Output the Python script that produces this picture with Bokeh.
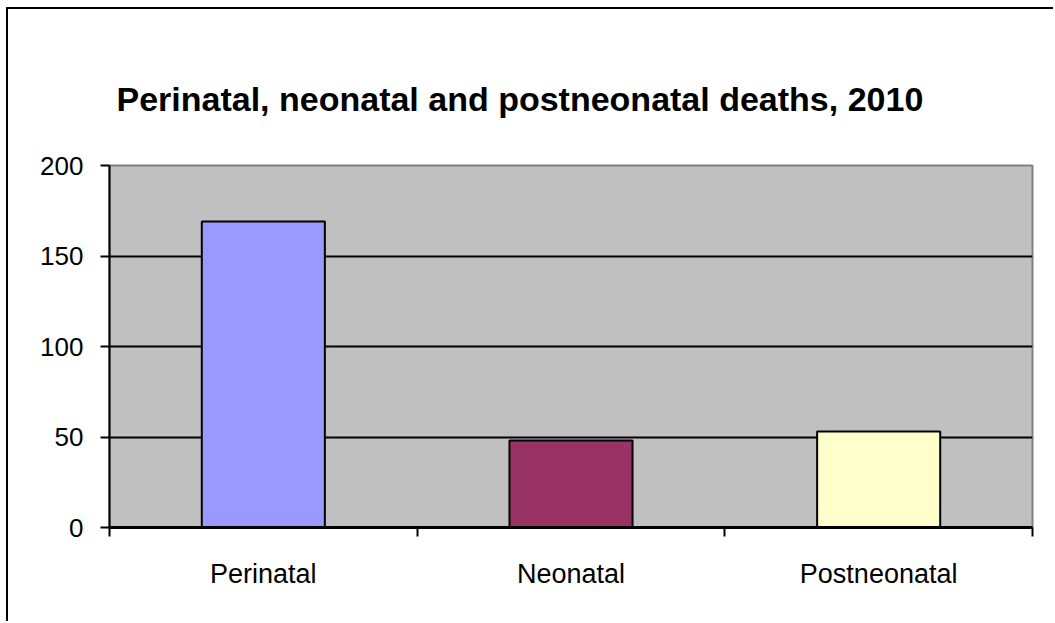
from bokeh.plotting import figure
from bokeh.models import Range1d, FixedTicker, ColumnDataSource
from bokeh.embed import file_html
from bokeh.resources import INLINE

categories = ["Perinatal", "Neonatal", "Postneonatal"]
deaths = [169, 48, 53]
bar_colors = ["#9999FF", "#993366", "#FFFFCC"]
y_ticks = [0, 50, 100, 150, 200]
title_text = "Perinatal, neonatal and postneonatal deaths, 2010"

positions = [i + 0.5 for i in range(len(categories))]
src = ColumnDataSource(dict(x=positions, top=deaths, color=bar_colors, name=categories))

FONT = "Liberation Sans"

p = figure(width=1047, height=614, output_backend="svg", toolbar_location=None,
           x_range=Range1d(0, len(categories)), y_range=Range1d(0, 200),
           frame_width=923, frame_height=362, title=title_text,
           min_border_left=101, min_border_top=156, min_border_right=21, min_border_bottom=94)
p.margin = (7, 0, 0, 6)
p.styles = {"border-left": "2px solid black", "border-top": "2px solid black"}

p.title.align = "left"
p.title.vertical_align = "top"
p.title.offset = 7
p.title.standoff = 92
p.title.text_font = FONT
p.title.text_font_size = "34px"
p.title.text_font_style = "bold"
p.title.text_color = "black"

p.background_fill_color = "#C0C0C0"
p.border_fill_color = "white"
p.outline_line_color = "#808080"
p.outline_line_width = 2

p.vbar(x="x", top="top", bottom=0, width=0.4, fill_color="color",
       line_color="black", line_width=2, source=src)

p.xgrid.visible = False
p.ygrid.ticker = FixedTicker(ticks=[50, 100, 150])
p.ygrid.grid_line_color = "black"
p.ygrid.grid_line_width = 2
p.ygrid.grid_line_alpha = 1

# y axis
p.yaxis.ticker = FixedTicker(ticks=y_ticks)
p.yaxis.axis_line_color = "black"
p.yaxis.axis_line_width = 2
p.yaxis.major_tick_line_color = "black"
p.yaxis.major_tick_line_width = 2
p.yaxis.major_tick_out = 9
p.yaxis.major_tick_in = 0
p.yaxis.minor_tick_line_color = None
p.yaxis.major_label_standoff = 17
p.yaxis.major_label_text_font = FONT
p.yaxis.major_label_text_font_size = "26px"
p.yaxis.major_label_text_color = "black"

# x axis
p.xaxis.ticker = FixedTicker(ticks=positions, minor_ticks=list(range(len(categories) + 1)))
p.xaxis.major_label_overrides = {pos: name for pos, name in zip(positions, categories)}
p.xaxis.axis_line_color = "black"
p.xaxis.axis_line_width = 3
p.xaxis.major_tick_line_color = None
p.xaxis.major_tick_out = 0
p.xaxis.major_tick_in = 0
p.xaxis.minor_tick_line_color = "black"
p.xaxis.minor_tick_line_width = 2
p.xaxis.minor_tick_out = 9
p.xaxis.minor_tick_in = 0
p.xaxis.major_label_standoff = 22
p.xaxis.major_label_text_font = FONT
p.xaxis.major_label_text_font_size = "27px"
p.xaxis.major_label_text_color = "black"

open("out.html", "w").write(file_html(p, INLINE))
